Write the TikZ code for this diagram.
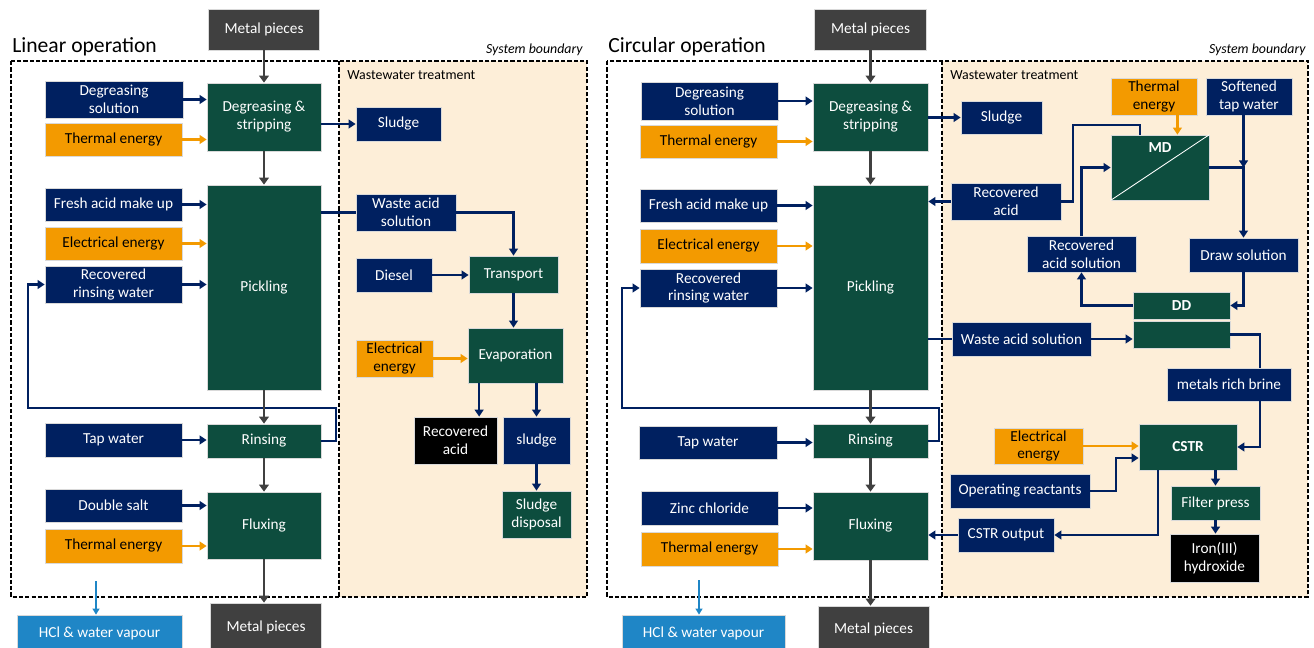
\documentclass[tikz,border=0pt]{standalone}
\usepackage{fontspec}
\setmainfont{Carlito}
\usepackage{tikz}
\usetikzlibrary{arrows.meta,calc}
\definecolor{clNavy}{HTML}{002060}
\definecolor{clGreen}{HTML}{0D4D3E}
\definecolor{clEnergy}{HTML}{F39A00}
\definecolor{clMetal}{HTML}{404040}
\definecolor{clVapour}{HTML}{1F86C6}
\definecolor{clWaste}{HTML}{FDEED8}
\newcommand\boxfont{\fontsize{8.7}{10.2}\selectfont}
\newcommand\titlefont{\fontsize{12.3}{14}\selectfont}
\newcommand\notefont{\fontsize{7.9}{9}\selectfont}
\tikzset{
  stdbox/.style={draw=white!70!gray, line width=0.4pt, inner sep=1pt, align=center, font=\boxfont, text=white},
  boxsize/.style 2 args={minimum width=#1*0.02cm, minimum height=#2*0.02cm},
  navybox/.style={stdbox, fill=clNavy},
  procbox/.style={stdbox, fill=clGreen},
  energybox/.style={stdbox, fill=clEnergy, text=black},
  productbox/.style={stdbox, fill=black},
  metalbox/.style={stdbox, fill=clMetal},
  vapourbox/.style={stdbox, fill=clVapour},
  lbl/.style={inner sep=0pt},
  boundary/.style={draw=black, line width=0.7pt, dash pattern=on 2.4pt off 1.2pt},
  mainflow/.style={draw=clMetal, line width=1.5pt, -{Triangle[length=4pt,width=5.5pt]}},
  navyline/.style={draw=clNavy, line width=1.2pt},
  navyflow/.style={navyline, -{Triangle[length=4pt,width=5pt]}},
  energyflow/.style={draw=clEnergy, line width=1.25pt, -{Triangle[length=4pt,width=5pt]}},
  vapourflow/.style={draw=clVapour, line width=0.8pt, -{Triangle[length=3.5pt,width=4pt]}},
}
\begin{document}
\begin{tikzpicture}[x=0.02cm,y=-0.02cm]
  \useasboundingbox (0,0) rectangle (1314,648);
  % system boundaries
  \fill[clWaste] (339,61) rectangle (587,597);
  \fill[clWaste] (942,61) rectangle (1308,597);
  \draw[boundary] (11,61) rectangle (587,597);
  \draw[boundary] (339,61) -- (339,597);
  \draw[boundary] (607,61) rectangle (1308,597);
  \draw[boundary] (942,61) -- (942,597);
  \node[lbl, anchor=west, font=\titlefont] (linTitle) at (12,47) {Linear operation};
  \node[lbl, anchor=west, font=\titlefont] (circTitle) at (608,47) {Circular operation};
  \node[lbl, anchor=east, font=\notefont\itshape] (sysL) at (583,50) {System boundary};
  \node[lbl, anchor=east, font=\notefont\itshape] (sysR) at (1306,50) {System boundary};
  \node[lbl, anchor=west, font=\notefont] (wwL) at (347,75) {Wastewater treatment};
  \node[lbl, anchor=west, font=\notefont] (wwR) at (950,75) {Wastewater treatment};

  % linear operation
  \node[metalbox, boxsize={111}{41}] (metalinL) at (264,29.5) {Metal pieces};
  \node[navybox, boxsize={138}{37}] (degsolL) at (114,99.5) {Degreasing\\solution};
  \node[energybox, boxsize={137}{33}] (thermL1) at (113.5,139.5) {Thermal energy};
  \node[procbox, boxsize={114}{68}] (degL) at (264,117) {Degreasing \&\\stripping};
  \node[navybox, boxsize={137}{33}] (freshL) at (113.5,204.5) {Fresh acid make up};
  \node[energybox, boxsize={137}{33}] (elecL1) at (113.5,243.5) {Electrical energy};
  \node[navybox, boxsize={137}{37}] (recrinL) at (113.5,284.5) {Recovered\\rinsing water};
  \node[procbox, boxsize={114}{205}] (pickL) at (264,287.5) {Pickling};
  \node[navybox, boxsize={137}{34}] (tapL) at (113.5,440) {Tap water};
  \node[procbox, boxsize={114}{34}] (rinseL) at (264,441) {Rinsing};
  \node[navybox, boxsize={137}{33}] (saltL) at (113.5,505.5) {Double salt};
  \node[energybox, boxsize={137}{34}] (thermL2) at (113.5,546) {Thermal energy};
  \node[procbox, boxsize={114}{67}] (fluxL) at (264,525.5) {Fluxing};
  \node[metalbox, boxsize={111}{49}] (metaloutL) at (266,627.5) {Metal pieces};
  \node[vapourbox, boxsize={165}{37}] (vapourL) at (99.5,633.5) {HCl \& water vapour};
  \node[navybox, boxsize={85}{34}] (sludgeL) at (398.5,124) {Sludge};
  \node[navybox, boxsize={100}{37}] (wasteL) at (406,212.5) {Waste acid\\solution};
  \node[navybox, boxsize={76}{34}] (dieselL) at (394,275) {Diesel};
  \node[procbox, boxsize={89}{37}] (transL) at (513.5,274.5) {Transport};
  \node[energybox, boxsize={77}{37}] (elecL2) at (394.5,358.5) {Electrical\\energy};
  \node[procbox, boxsize={95}{55}] (evapL) at (515.5,355.5) {Evaporation};
  \node[productbox, boxsize={83}{47}] (acidL) at (455.5,440.5) {Recovered\\acid};
  \node[navybox, boxsize={67}{47}] (sludge2L) at (536.5,440.5) {sludge};
  \node[procbox, boxsize={69}{47}] (dispL) at (536.5,514.5) {Sludge\\disposal};

  % circular operation
  \node[metalbox, boxsize={112}{41}] (metalinR) at (870.5,29.5) {Metal pieces};
  \node[navybox, boxsize={137}{38}] (degsolR) at (709.5,101) {Degreasing\\solution};
  \node[energybox, boxsize={137}{33}] (thermR1) at (708.5,141.5) {Thermal energy};
  \node[procbox, boxsize={115}{68}] (degR) at (870.5,117) {Degreasing \&\\stripping};
  \node[navybox, boxsize={137}{33}] (freshR) at (708.5,205.5) {Fresh acid make up};
  \node[energybox, boxsize={137}{34}] (elecR1) at (708.5,246) {Electrical energy};
  \node[navybox, boxsize={137}{38}] (recrinR) at (708.5,288) {Recovered\\rinsing water};
  \node[procbox, boxsize={115}{205}] (pickR) at (870.5,287.5) {Pickling};
  \node[navybox, boxsize={138}{33}] (tapR) at (708,442.5) {Tap water};
  \node[procbox, boxsize={115}{34}] (rinseR) at (870.5,441) {Rinsing};
  \node[navybox, boxsize={137}{34}] (zincR) at (709.5,508) {Zinc chloride};
  \node[energybox, boxsize={137}{34}] (thermR2) at (709.5,549) {Thermal energy};
  \node[procbox, boxsize={115}{68}] (fluxR) at (870.5,526) {Fluxing};
  \node[metalbox, boxsize={111}{46}] (metaloutR) at (873.5,629) {Metal pieces};
  \node[vapourbox, boxsize={163}{37}] (vapourR) at (703.5,633.5) {HCl \& water vapour};
  \node[navybox, boxsize={81}{33}] (sludgeR) at (1001.5,117.5) {Sludge};
  \node[navybox, boxsize={110}{37}] (acidR) at (1006,201.5) {Recovered\\acid};
  \node[energybox, boxsize={86}{37}] (thermR3) at (1154,96.5) {Thermal\\energy};
  \node[navybox, boxsize={86}{37}] (softR) at (1249,96.5) {Softened\\tap water};
  \node[procbox, boxsize={98}{65}] (mdR) at (1160,167.5) {};
  \draw[white, line width=0.5pt] (mdR.south west) -- (mdR.north east);
  \node[lbl, anchor=north, text=white, font=\boxfont\bfseries] (mdtxt) at ($(mdR.north)+(0,8)$) {MD};
  \node[navybox, boxsize={109}{36}] (recsolR) at (1081.5,254) {Recovered\\acid solution};
  \node[navybox, boxsize={109}{34}] (drawR) at (1243.5,255) {Draw solution};
  \node[procbox, boxsize={97}{27}, font=\boxfont\bfseries] (ddtopR) at (1181.5,305.5) {DD};
  \node[procbox, boxsize={97}{27}] (ddbotR) at (1181.5,334.5) {};
  \node[navybox, boxsize={139}{34}] (wasteR) at (1021.5,339) {Waste acid solution};
  \node[navybox, boxsize={124}{33}] (brineR) at (1229,384.5) {metals rich brine};
  \node[procbox, boxsize={98}{46}, font=\boxfont\bfseries] (cstrR) at (1188,447) {CSTR};
  \node[energybox, boxsize={89}{36}] (elecR2) at (1038.5,446) {Electrical\\energy};
  \node[navybox, boxsize={140}{34}] (opR) at (1020,491) {Operating reactants};
  \node[navybox, boxsize={96}{34}] (cstroutR) at (1006,535) {CSTR output};
  \node[procbox, boxsize={89}{34}] (filterR) at (1215.5,503) {Filter press};
  \node[productbox, boxsize={89}{48}] (ironR) at (1214.5,558) {Iron(III)\\hydroxide};

  % recycling loops
  \coordinate (loopL) at (28,408);
  \coordinate (loopR) at (622,408);
  \draw[navyflow] (rinseL.east) -- ++(15,0) |- (loopL) |- (recrinL.west);
  \draw[navyflow] (rinseR.east) -- ++(11,0) |- (loopR) |- (recrinR.west);

  % main flow
  \foreach \a/\b in {metalinL/degL,degL/pickL,pickL/rinseL,rinseL/fluxL,metalinR/degR,degR/pickR,pickR/rinseR,rinseR/fluxR}
    \draw[mainflow] (\a.south) -- (\a.south |- \b.north);
  \draw[mainflow] (fluxL.south) -- (fluxL.south |- metaloutL.north);
  \draw[mainflow] (fluxR.south) -- (fluxR.south |- metaloutR.north);

  % inputs
  \foreach \a/\b in {degsolL/degL,freshL/pickL,recrinL/pickL,tapL/rinseL,saltL/fluxL,degsolR/degR,freshR/pickR,recrinR/pickR,tapR/rinseR,zincR/fluxR,dieselL/transL,wasteR/ddbotR}
    \draw[navyflow] (\a.east) -- (\a.east -| \b.west);
  \foreach \a/\b in {thermL1/degL,elecL1/pickL,thermL2/fluxL,thermR1/degR,elecR1/pickR,thermR2/fluxR,elecL2/evapL,elecR2/cstrR}
    \draw[energyflow] (\a.east) -- (\a.east -| \b.west);
  \coordinate (vapL) at (96,581);
  \coordinate (vapR) at (699,580);
  \draw[vapourflow] (vapL) -- (vapL |- vapourL.north);
  \draw[vapourflow] (vapR) -- (vapR |- vapourR.north);

  % wastewater treatment, linear
  \draw[navyflow] (degL.east |- sludgeL.west) -- (sludgeL.west);
  \draw[navyline] (pickL.east |- wasteL.west) -- (wasteL.west);
  \draw[navyflow] (wasteL.east) -| (transL.north);
  \draw[navyflow] (transL.south) -- (transL.south |- evapL.north);
  \draw[navyflow] ($(evapL.south west)!0.12!(evapL.south east)$) coordinate (evA) -- (evA |- acidL.north);
  \draw[navyflow] (sludge2L.north |- evapL.south) -- (sludge2L.north);
  \draw[navyflow] (sludge2L.south) -- (dispL.north);

  % wastewater treatment, circular
  \coordinate (mdret) at (1073,125);
  \coordinate (opbend) at (1116,458);
  \draw[navyflow] (degR.east |- sludgeR.west) -- (sludgeR.west);
  \draw[navyline] ($(mdR.north west)!0.3!(mdR.north east)$) |- (mdret) |- (acidR.east);
  \draw[navyflow] (acidR.west) -- (acidR.west -| pickR.east);
  \draw[energyflow] ($(thermR3.south west)!0.77!(thermR3.south east)$) coordinate (thA) -- (thA |- mdR.north);
  \draw[navyflow] (softR.south -| drawR.north) -- (drawR.north |- mdR.east);
  \draw[navyflow] (mdR.east) -| (drawR.north);
  \draw[navyflow] (recsolR.north) |- (mdR.west);
  \draw[navyflow] (ddtopR.west) -| (recsolR.south);
  \draw[navyflow] (drawR.south) |- (ddtopR.east);
  \draw[navyline] (pickR.east |- wasteR.west) -- (wasteR.west);
  \draw[navyline] (ddbotR.east) -| ($(brineR.north west)!0.75!(brineR.north east)$);
  \draw[navyflow] ($(brineR.south west)!0.75!(brineR.south east)$) |- (cstrR.east);
  \draw[navyflow] (opR.east) -| (opbend) -- (opbend -| cstrR.west);
  \draw[navyflow] ($(cstrR.south west)!0.2!(cstrR.south east)$) |- (cstroutR.east);
  \draw[navyflow] (cstroutR.west) -- (cstroutR.west -| fluxR.east);
  \draw[navyflow] (filterR.north |- cstrR.south) -- (filterR.north);
  \draw[navyflow] (filterR.south) -- (filterR.south |- ironR.north);
\end{tikzpicture}
\end{document}
